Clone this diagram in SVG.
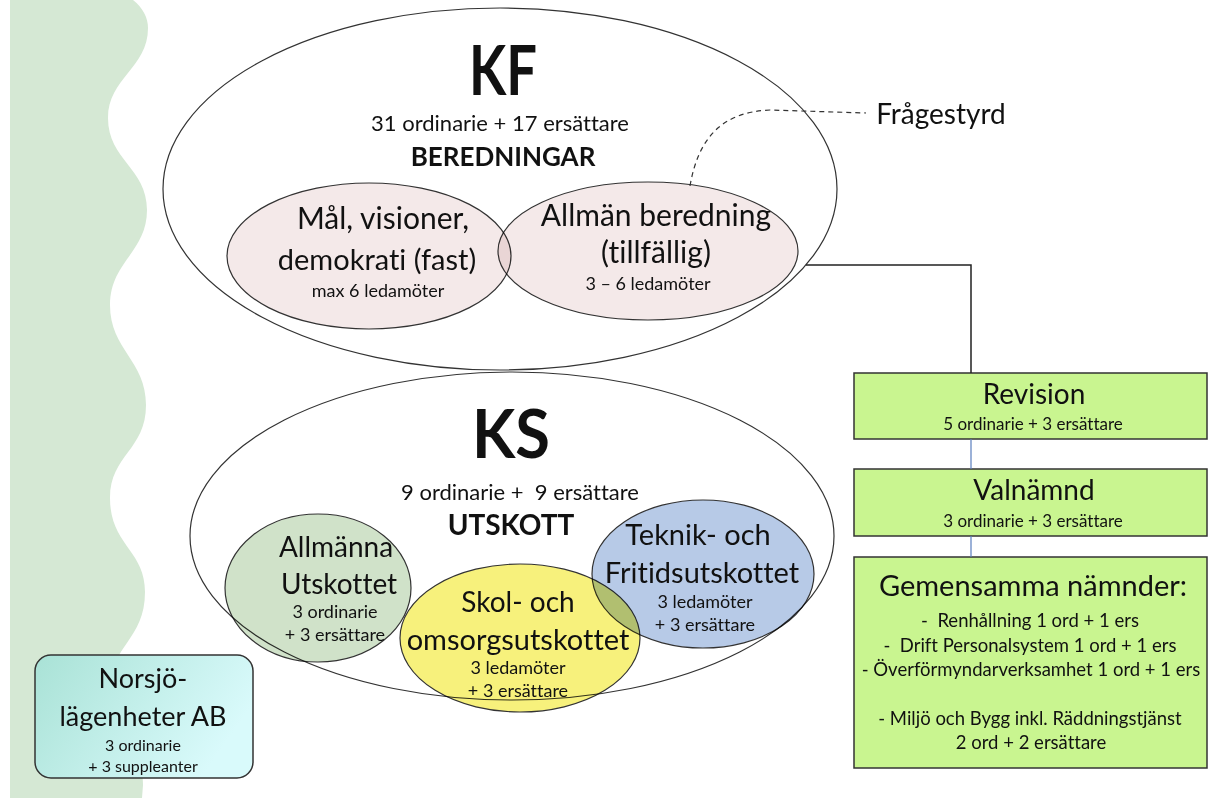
<svg xmlns="http://www.w3.org/2000/svg" width="1213" height="798" viewBox="0 0 1213 798">
<style>
text{font-family:Lato,"Liberation Sans",sans-serif;fill:#111;text-anchor:middle;font-variant-ligatures:none;white-space:pre}
.b{font-weight:bold}
.ell{stroke:#333;stroke-width:1.2}
.box{stroke:#333;stroke-width:1.5}
.m{mix-blend-mode:multiply}
.big{font-size:28px}
.sm{font-size:18px}
.bs{font-size:17px}
.li{font-size:18.5px}
</style>
<defs>
<linearGradient id="ng" x1="0" y1="0" x2="1" y2="0.4">
<stop offset="0" stop-color="#a9e2d6"/>
<stop offset="1" stop-color="#d9fafb"/>
</linearGradient>
</defs>
<rect width="1213" height="798" fill="#fff"/>
<path id="wave" fill="#d5e8d4" d="M10,0 H133 C143,8 148,18 148,28 C148,68 108,78 108,118 C108,160 147,168 147,210 C147,252 110,262 110,305 C110,350 146,360 146,405 C146,450 110,455 110,498 C110,545 145,550 145,592 C145,640 110,645 110,690 C110,735 143,742 143,785 L142,798 H10 Z"/>

<g id="kf">
<ellipse class="ell" cx="500" cy="189" rx="337" ry="181" fill="#fff"/>
<text class="b" x="503" y="95" font-size="68" textLength="68" lengthAdjust="spacingAndGlyphs">KF</text>
<text x="500" y="131" font-size="22">31 ordinarie + 17 ersättare</text>
<text class="b" x="503" y="166" font-size="26">BEREDNINGAR</text>
</g>
<g id="mal">
<ellipse class="ell m" cx="369" cy="256" rx="142" ry="73" fill="#f4e9e9"/>
<text x="383" y="229" font-size="30">Mål, visioner,</text>
<text x="377" y="270" font-size="29">demokrati (fast)</text>
<text class="sm" x="378" y="297">max 6 ledamöter</text>
</g>
<g id="allman">
<ellipse class="ell m" cx="648" cy="251" rx="150" ry="69" fill="#f4e9e9"/>
<text x="656" y="226" font-size="30">Allmän beredning</text>
<text x="656" y="263" font-size="30">(tillfällig)</text>
<text class="sm" x="648" y="290">3 – 6 ledamöter</text>
</g>
<g id="fragestyrd">
<text x="941" y="124" font-size="28">Frågestyrd</text>
</g>

<g id="ks">
<ellipse class="ell" cx="512" cy="536" rx="322" ry="164" fill="#fff"/>
<text class="b" x="511" y="458" font-size="66" textLength="78" lengthAdjust="spacingAndGlyphs">KS</text>
<text x="520" y="500" font-size="22">9 ordinarie +  9 ersättare</text>
<text class="b" x="511" y="535" font-size="28">UTSKOTT</text>
</g>
<g id="allmanna">
<ellipse class="ell m" cx="318" cy="588" rx="93" ry="74" fill="#d0e2c9"/>
<text class="big" x="336" y="557">Allmänna</text>
<text class="big" x="339" y="594">Utskottet</text>
<text class="sm" x="335" y="618">3 ordinarie</text>
<text class="sm" x="335" y="641">+ 3 ersättare</text>
</g>
<g id="teknik">
<ellipse class="ell m" cx="703" cy="574" rx="111" ry="74" fill="#b7cae7"/>
<text x="698" y="545" font-size="29">Teknik- och</text>
<text x="702" y="583" font-size="29">Fritidsutskottet</text>
<text class="sm" x="705" y="608">3 ledamöter</text>
<text class="sm" x="705" y="631">+ 3 ersättare</text>
</g>
<g id="skol">
<ellipse class="ell m" cx="520" cy="638" rx="120" ry="74" fill="#f7f17c"/>
<text class="big" x="518" y="612">Skol- och</text>
<text x="518" y="650" font-size="29">omsorgsutskottet</text>
<text class="sm" x="518" y="674">3 ledamöter</text>
<text class="sm" x="518" y="697">+ 3 ersättare</text>
</g>

<g id="norsjo">
<rect class="box" x="35" y="655" width="218" height="123" rx="16" fill="url(#ng)"/>
<text x="143" y="688" font-size="27">Norsjö-</text>
<text x="143" y="726" font-size="27">lägenheter AB</text>
<text x="143" y="751" font-size="16">3 ordinarie</text>
<text x="143" y="772" font-size="16">+ 3 suppleanter</text>
</g>

<g id="revision">
<rect class="box" x="854" y="373" width="353" height="66" fill="#c9f590"/>
<text class="big" x="1034" y="404">Revision</text>
<text class="bs" x="1033" y="430">5 ordinarie + 3 ersättare</text>
</g>
<g id="valnamnd">
<rect class="box" x="854" y="469" width="353" height="67" fill="#c9f590"/>
<text class="big" x="1034" y="500">Valnämnd</text>
<text class="bs" x="1033" y="527">3 ordinarie + 3 ersättare</text>
</g>
<g id="gemensamma">
<rect class="box" x="854" y="557" width="353" height="211" fill="#c9f590"/>
<text x="1033" y="596" font-size="29">Gemensamma nämnder:</text>
<text class="li" x="1030" y="627">-  Renhållning 1 ord + 1 ers</text>
<text class="li" x="1030" y="652">-  Drift Personalsystem 1 ord + 1 ers</text>
<text class="li" x="1031" y="676">- Överförmyndarverksamhet 1 ord + 1 ers</text>
<text class="li" x="1030" y="725">- Miljö och Bygg inkl. Räddningstjänst</text>
<text class="li" x="1031" y="749">2 ord + 2 ersättare</text>
</g>

<g id="connectors" fill="none">
<path d="M690,186 C698,140 720,112 770,110 L866,113" stroke="#333" stroke-width="1.2" stroke-dasharray="5,4"/>
<path d="M806,265 H971 V373" stroke="#222" stroke-width="1.5"/>
<path d="M971,439 V469 M971,536 V557" stroke="#5b7fbf" stroke-width="1.2"/>
</g>
</svg>
